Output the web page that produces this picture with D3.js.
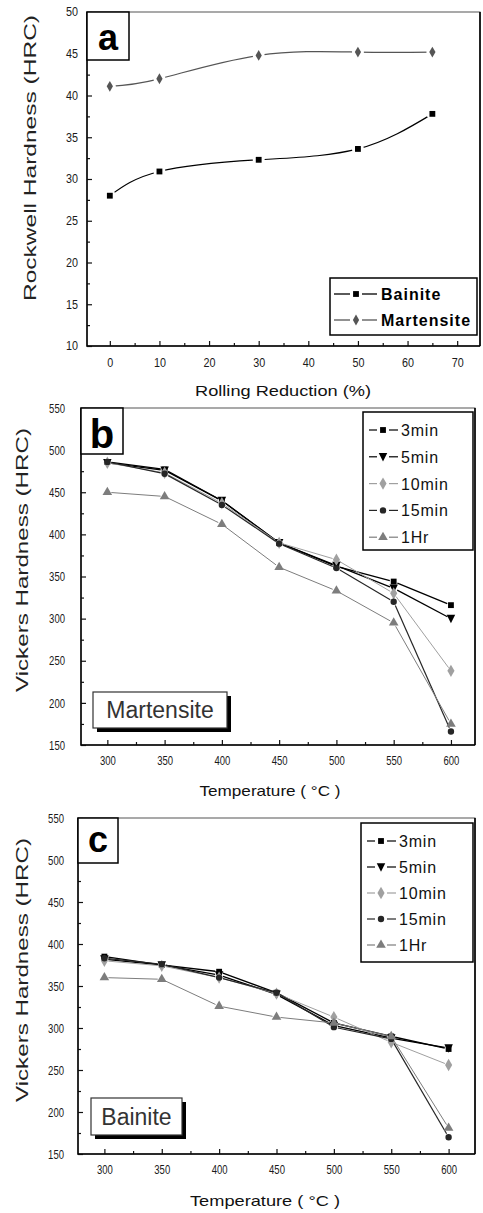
<!DOCTYPE html>
<html>
<head>
<meta charset="utf-8">
<script src="https://cdn.jsdelivr.net/npm/d3@7.9.0/dist/d3.min.js"></script>
<style>
  html, body { margin: 0; padding: 0; background: #fff; }
  svg { display: block; font-family: "Liberation Sans", Arial, sans-serif; }
</style>
</head>
<body>
<div id="chart"></div>
<script>
// panel a: rockwell hardness vs rolling reduction
const reductionPct = [0, 10, 30, 50, 65];
const bainiteHRC = [28.0, 30.9, 32.3, 33.6, 37.8];
const martensiteHRC = [41.1, 42.0, 44.8, 45.2, 45.2];

// panels b / c: vickers hardness vs tempering temperature
const temperatures = [300, 350, 400, 450, 500, 550, 600];
const holdTimes = ['3min', '5min', '10min', '15min', '1Hr'];

const martensiteHV = [
  [486, 477, 440, 390, 362, 344, 316],
  [485, 476, 440, 390, 363, 336, 300],
  [485, 473, 437, 390, 370, 330, 238],
  [486, 472, 435, 389, 360, 320, 166],
  [450, 445, 412, 361, 333, 295, 175]
];
const bainiteHV = [
  [385, 375, 367, 342, 306, 290, 275],
  [382, 375, 363, 340, 303, 288, 276],
  [380, 374, 360, 341, 313, 283, 256],
  [383, 376, 360, 342, 301, 287, 170],
  [360, 358, 326, 313, 306, 290, 181]
];

const rollingTicks = [0, 10, 20, 30, 40, 50, 60, 70];
const hrcTicks = [10, 15, 20, 25, 30, 35, 40, 45, 50];
const tempTicks = [300, 350, 400, 450, 500, 550, 600];
const hvTicks = [150, 200, 250, 300, 350, 400, 450, 500, 550];

const W = 483, H = 1213;
const svg = d3.select('#chart').append('svg')
  .attr('width', W).attr('height', H);
svg.append('rect').attr('width', W).attr('height', H).attr('fill', '#fff');

const downTriangle = {
  draw(ctx, size) {
    const h = Math.sqrt(size * 1.2);
    ctx.moveTo(-h / 2, -h * 0.45);
    ctx.lineTo(h / 2, -h * 0.45);
    ctx.lineTo(0, h * 0.55);
    ctx.closePath();
  }
};

const styles = [
  { color: '#000', symbol: d3.symbolSquare, size: 34, width: 1.3 },
  { color: '#000', symbol: downTriangle, size: 60, width: 1.3 },
  { color: '#a0a0a0', symbol: d3.symbolDiamond, size: 44, width: 1 },
  { color: '#262626', symbol: d3.symbolCircle, size: 32, width: 1.2 },
  { color: '#7d7d7d', symbol: d3.symbolTriangle, size: 40, width: 1 }
];

function fitText(sel, perChar) {
  sel.attr('textLength', d => String(d).length * perChar)
    .attr('lengthAdjust', 'spacingAndGlyphs');
}

function drawAxes(g, x, y, opt) {
  const [x0, x1] = x.range();
  const [y0, y1] = y.range();

  const bottom = g.append('g').attr('transform', `translate(0,${y0})`);
  bottom.call(d3.axisBottom(x).tickValues(opt.xTicks).tickSize(-5)
    .tickPadding(opt.xPad).tickFormat(d3.format('d')));
  bottom.append('g').call(d3.axisBottom(x).tickValues(opt.xMinor).tickSize(-3).tickFormat(''));

  const left = g.append('g').attr('transform', `translate(${x0},0)`);
  left.call(d3.axisLeft(y).tickValues(opt.yTicks).tickSize(-5)
    .tickPadding(opt.yPad).tickFormat(d3.format('d')));
  left.append('g').call(d3.axisLeft(y).tickValues(opt.yMinor).tickSize(-3).tickFormat(''));

  g.selectAll('.domain').remove();
  g.selectAll('.tick line').attr('stroke', '#111').attr('stroke-width', 1.2);
  g.selectAll('.tick text').attr('fill', '#1a1a1a')
    .style('font-size', opt.tickFont + 'px').call(fitText, opt.digitW);

  // frame
  g.append('rect')
    .attr('x', x0).attr('y', y1)
    .attr('width', x1 - x0).attr('height', y0 - y1)
    .attr('fill', 'none').attr('stroke', '#555').attr('stroke-width', 1);
  g.append('path')
    .attr('d', `M${x0},${y1}V${y0}H${x1}`)
    .attr('fill', 'none').attr('stroke', '#000').attr('stroke-width', 1.5);
  g.append('line')
    .attr('x1', x1).attr('x2', x1).attr('y1', y1).attr('y2', y0)
    .attr('stroke', '#000').attr('stroke-width', 1.6);

  // axis titles
  g.append('text')
    .attr('x', opt.xTitle.cx).attr('y', opt.xTitle.y)
    .attr('text-anchor', 'middle').attr('fill', '#111')
    .style('font-size', opt.xTitle.size + 'px')
    .attr('textLength', opt.xTitle.len).attr('lengthAdjust', 'spacingAndGlyphs')
    .text(opt.xTitle.text);
  g.append('text')
    .attr('transform', `translate(${opt.yTitle.x},${opt.yTitle.cy}) rotate(-90)`)
    .attr('text-anchor', 'middle').attr('fill', '#222')
    .style('font-size', opt.yTitle.size + 'px')
    .attr('textLength', opt.yTitle.len).attr('lengthAdjust', 'spacingAndGlyphs')
    .text(opt.yTitle.text);

  // panel letter
  const lb = opt.letterBox;
  g.append('rect')
    .attr('x', x0).attr('y', y1).attr('width', lb.w).attr('height', lb.h)
    .attr('fill', '#fff').attr('stroke', '#000').attr('stroke-width', 1.5);
  g.append('text')
    .attr('x', x0 + lb.w / 2).attr('y', y1 + lb.base)
    .attr('text-anchor', 'middle').attr('fill', '#000')
    .style('font-size', lb.size + 'px').style('font-weight', 'bold')
    .text(opt.letter);
}

function gappedSegments(points, gap) {
  const segs = [];
  for (let i = 1; i < points.length; i++) {
    const [ax, ay] = points[i - 1], [bx, by] = points[i];
    const dx = bx - ax, dy = by - ay, len = Math.hypot(dx, dy);
    if (len <= gap * 2) continue;
    const ux = dx / len, uy = dy / len;
    segs.push([[ax + ux * gap, ay + uy * gap], [bx - ux * gap, by - uy * gap]]);
  }
  return segs;
}

function marker(g, st, px, py) {
  g.append('path')
    .attr('d', d3.symbol(st.symbol, st.size)())
    .attr('transform', `translate(${px},${py})`)
    .attr('fill', st.color);
}

// ---------- panel a ----------
{
  const g = svg.append('g');
  const x = d3.scaleLinear().domain([-4.6, 74.6]).range([87, 480]);
  const y = d3.scaleLinear().domain([10, 50]).range([346, 12]);

  drawAxes(g, x, y, {
    xTicks: rollingTicks, xMinor: d3.range(5, 75, 10),
    yTicks: hrcTicks, yMinor: d3.range(12.5, 50, 5),
    xPad: 12, yPad: 9, tickFont: 12, digitW: 6,
    xTitle: { text: 'Rolling Reduction (%)', cx: 283, y: 396, size: 15, len: 176 },
    yTitle: { text: 'Rockwell Hardness (HRC)', x: 36, cy: 158, size: 17, len: 286 },
    letter: 'a', letterBox: { w: 42, h: 48, base: 38, size: 36 }
  });

  const series = [
    { name: 'Bainite', values: bainiteHRC, color: '#000', symbol: d3.symbolSquare, size: 34 },
    { name: 'Martensite', values: martensiteHRC, color: '#555', symbol: d3.symbolDiamond, size: 34 }
  ];
  const line = d3.line().curve(d3.curveNatural)
    .x((d, i) => x(reductionPct[i])).y(d => y(d));

  series.forEach(s => {
    g.append('path').attr('d', line(s.values))
      .attr('fill', 'none').attr('stroke', s.color).attr('stroke-width', 1.2);
    s.values.forEach((v, i) => {
      g.append('circle').attr('cx', x(reductionPct[i])).attr('cy', y(v))
        .attr('r', 6).attr('fill', '#fff');
    });
    s.values.forEach((v, i) => marker(g, s, x(reductionPct[i]), y(v)));
  });

  // legend
  const lg = g.append('g');
  lg.append('rect').attr('x', 330).attr('y', 278).attr('width', 147).attr('height', 57)
    .attr('fill', '#fff').attr('stroke', '#000').attr('stroke-width', 1.5);
  series.forEach((s, i) => {
    const cy = 294 + i * 26;
    lg.append('line').attr('x1', 334).attr('x2', 350).attr('y1', cy).attr('y2', cy)
      .attr('stroke', s.color).attr('stroke-width', 1.3);
    lg.append('line').attr('x1', 362).attr('x2', 377).attr('y1', cy).attr('y2', cy)
      .attr('stroke', s.color).attr('stroke-width', 1.3);
    marker(lg, s, 356, cy);
    lg.append('text').attr('x', 381).attr('y', cy + 6)
      .attr('fill', '#000').style('font-size', '16px').style('font-weight', 'bold')
      .style('letter-spacing', '1px').text(s.name);
  });
}

// ---------- panels b / c ----------
function tempPanel(cfg) {
  const g = svg.append('g');
  const x = d3.scaleLinear().domain(cfg.xDomain).range([cfg.left, cfg.right]);
  const y = d3.scaleLinear().domain([150, 550]).range([cfg.bottom, cfg.top]);

  drawAxes(g, x, y, {
    xTicks: tempTicks, xMinor: d3.range(325, 600, 50),
    yTicks: hvTicks, yMinor: d3.range(175, 550, 50),
    xPad: 11, yPad: cfg.yPad, tickFont: 13, digitW: 5.3,
    xTitle: { text: 'Temperature ( \u00B0C )', cx: cfg.xTitleCx, y: cfg.xTitleY, size: 15, len: cfg.xTitleLen },
    yTitle: { text: 'Vickers Hardness (HRC)', x: 28, cy: cfg.yTitleCy, size: 17, len: 264 },
    letter: cfg.letter, letterBox: cfg.letterBox
  });

  cfg.values.forEach((vals, si) => {
    const st = styles[si];
    const pts = vals.map((v, i) => [x(temperatures[i]), y(v)]);
    gappedSegments(pts, 4).forEach(([a, b]) => {
      g.append('line').attr('x1', a[0]).attr('y1', a[1]).attr('x2', b[0]).attr('y2', b[1])
        .attr('stroke', st.color).attr('stroke-width', st.width);
    });
  });
  cfg.values.forEach((vals, si) => {
    vals.forEach((v, i) => marker(g, styles[si], x(temperatures[i]), y(v)));
  });

  // legend
  const L = cfg.legend;
  const lg = g.append('g');
  lg.append('rect').attr('x', L.x).attr('y', L.y).attr('width', L.w).attr('height', L.h)
    .attr('fill', '#fff').attr('stroke', '#000').attr('stroke-width', 1.5);
  holdTimes.forEach((name, i) => {
    const st = styles[i];
    const cy = L.y + 18 + i * L.step;
    const mx = L.x + 20;
    lg.append('line').attr('x1', L.x + 6).attr('x2', mx - 6).attr('y1', cy).attr('y2', cy)
      .attr('stroke', st.color).attr('stroke-width', 1.2);
    lg.append('line').attr('x1', mx + 6).attr('x2', L.x + 35).attr('y1', cy).attr('y2', cy)
      .attr('stroke', st.color).attr('stroke-width', 1.2);
    marker(lg, st, mx, cy);
    lg.append('text').attr('x', L.x + 38).attr('y', cy + 6)
      .attr('fill', '#111').style('font-size', '16px')
      .style('letter-spacing', '0.8px').text(name);
  });

  // material label with drop shadow
  const M = cfg.material;
  g.append('rect').attr('x', M.x + 4).attr('y', M.y + 4).attr('width', M.w).attr('height', M.h)
    .attr('fill', '#000');
  g.append('rect').attr('x', M.x).attr('y', M.y).attr('width', M.w).attr('height', M.h)
    .attr('fill', '#fff').attr('stroke', '#333').attr('stroke-width', 1.2);
  g.append('text').attr('x', M.x + M.w / 2).attr('y', M.y + M.h / 2 + 8)
    .attr('text-anchor', 'middle').attr('fill', '#333')
    .style('font-size', '23px').text(M.text);
}

tempPanel({
  letter: 'b', values: martensiteHV,
  xDomain: [277, 621], left: 81, right: 475, top: 408, bottom: 745, yPad: 16,
  xTitleCx: 270, xTitleY: 796, xTitleLen: 141, yTitleCy: 560,
  letterBox: { w: 42, h: 46, base: 40, size: 40 },
  legend: { x: 363, y: 412, w: 110, h: 138, step: 26.8 },
  material: { x: 93, y: 692, w: 134, h: 36, text: 'Martensite' }
});

tempPanel({
  letter: 'c', values: bainiteHV,
  xDomain: [277, 623], left: 78, right: 475, top: 818, bottom: 1154, yPad: 14,
  xTitleCx: 265, xTitleY: 1206, xTitleLen: 150, yTitleCy: 970,
  letterBox: { w: 40, h: 45, base: 34, size: 36 },
  legend: { x: 361, y: 823, w: 112, h: 139, step: 26 },
  material: { x: 91, y: 1098, w: 91, h: 37, text: 'Bainite' }
});
</script>
</body>
</html>
